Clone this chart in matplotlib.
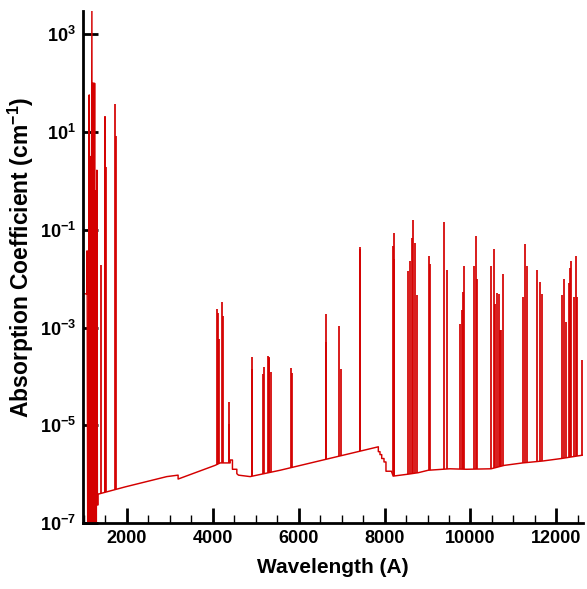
import numpy as np
import matplotlib
matplotlib.use("Agg")
import matplotlib.pyplot as plt
from matplotlib.ticker import FixedLocator, MultipleLocator, NullLocator

plt.rcParams['font.family'] = ['Liberation Sans', 'DejaVu Sans']
plt.rcParams['font.weight'] = 'bold'
plt.rcParams['mathtext.fontset'] = 'custom'
plt.rcParams['mathtext.rm'] = 'Liberation Sans:bold'
plt.rcParams['mathtext.bf'] = 'Liberation Sans:bold'
plt.rcParams['mathtext.it'] = 'Liberation Sans:bold'

# far-UV part of the spectrum, log10 of absorption coefficient (cm^-1)
uv_wl = [980, 1075, 1075, 1090, 1108, 1125, 1135, 1150, 1160, 1187, 1195,
         1210, 1218, 1225, 1240, 1250, 1262, 1280, 1290, 1303, 1315, 1329, 1329]
uv_log = [-2.31, -2.31, -1.43, -7.3, -7.3, 1.76, -7.3, 0.5, -7.3, 3.5, -7.3,
          2.0, -7.3, 2.0, -3.0, 2.0, -7.3, -0.2, -7.3, 0.22, -6.63, -6.63, -6.41]

# continuum (log10)
cont_wl = [1329, 1964, 2930, 3194, 3194, 4055, 4173, 4406, 4406, 4459, 4459, 4561, 4561,
           4599, 4871, 5569, 7855, 7855, 7894, 7894, 7934, 7934, 7987, 7987, 8033, 8033,
           8160, 8200, 8551, 8784, 9016, 9519, 9906, 10480, 10788, 11215, 11688, 12115, 12620]
cont_log = [-6.41, -6.26, -6.05, -6.02, -6.10, -5.82, -5.77, -5.77, -5.71, -5.71, -5.90, -5.90, -5.99,
            -6.02, -6.05, -5.92, -5.44, -5.54, -5.54, -5.60, -5.60, -5.68, -5.68, -5.75, -5.75, -5.94,
            -5.94, -6.04, -6.00, -5.97, -5.92, -5.89, -5.90, -5.89, -5.82, -5.77, -5.73, -5.68, -5.61]

# absorption lines: wavelength (A) and log10 peak
line_wl = [1396, 1481, 1496, 1513, 1736, 1752,
           4094, 4120, 4148, 4218, 4234, 4380, 4388,
           4906, 4915, 5162, 5193, 5278, 5300, 5316, 5355, 5813, 5844,
           6630, 6637, 6930, 6977, 7426, 7440,
           8187, 8218, 8230, 8551, 8590, 8628, 8667, 8706, 8745,
           9031, 9054, 9387, 9457, 9767, 9798, 9829, 9860,
           10085, 10132, 10155, 10487, 10550, 10580, 10620, 10660, 10690, 10720, 10757,
           11230, 11268, 11307, 11557, 11627, 11665,
           12131, 12177, 12230, 12285, 12310, 12349, 12400, 12465, 12490, 12596]
line_log = [-1.73, 1.31, 1.33, 0.28, 1.57, 0.92,
            -2.62, -2.70, -3.23, -2.48, -2.76, -4.97, -4.52,
            -3.60, -3.84, -3.95, -3.81, -3.58, -3.62, -3.60, -3.91, -3.83, -3.92,
            -3.29, -2.72, -2.97, -3.84, -1.35, -1.40,
            -1.33, -1.07, -1.60, -1.84, -1.63, -1.16, -0.79, -1.26, -2.33,
            -1.53, -1.70, -0.85, -1.82, -2.92, -2.65, -2.28, -1.75,
            -1.75, -1.13, -2.00, -1.75, -1.39, -2.52, -2.29, -2.31, -3.06, -3.06, -1.90,
            -2.38, -1.29, -1.75, -1.82, -2.07, -2.31,
            -2.34, -2.00, -2.89, -2.09, -1.79, -1.63, -2.38, -1.54, -2.38, -3.67]

ytick_vals = [1e-7, 1e-5, 1e-3, 1e-1, 1e1, 1e3]
ytick_labels = [r'$10^{-7}$', r'$10^{-5}$', r'$10^{-3}$', r'$10^{-1}$', r'$10^{1}$', r'$10^{3}$']

red = '#d40000'
fig = plt.figure(figsize=(5.87, 5.89), dpi=100)
ax = fig.add_axes([0.1414, 0.112, 0.8518, 0.8693])

lw = 1.05
ax.plot(uv_wl, 10.0 ** np.array(uv_log), color=red, lw=lw)
ax.plot(cont_wl, 10.0 ** np.array(cont_log), color=red, lw=lw)
base = np.interp(line_wl, cont_wl, cont_log)
ax.vlines(line_wl, 10.0 ** base, 10.0 ** np.array(line_log), color=red, lw=lw + 0.2)

ax.set_yscale('log')
ax.set_xlim(980, 12620)
ax.set_ylim(1e-7, 3e3)
ax.yaxis.set_major_locator(FixedLocator(ytick_vals))
ax.set_yticklabels(ytick_labels)
ax.yaxis.set_minor_locator(NullLocator())
ax.xaxis.set_major_locator(MultipleLocator(2000))
ax.xaxis.set_minor_locator(MultipleLocator(500))

for s in ['top', 'right']:
    ax.spines[s].set_visible(False)
for s in ['left', 'bottom']:
    ax.spines[s].set_linewidth(2)
ax.tick_params(which='major', direction='in', length=11, width=2, labelsize=13, pad=5)
ax.tick_params(which='minor', direction='in', length=6, width=1)
for lab in ax.get_xticklabels():
    lab.set_fontweight('bold')

ax.set_xlabel('Wavelength (A)', fontsize=15, fontweight='bold', labelpad=8)
ax.set_ylabel(r'Absorption Coefficient (cm$^{-1}$)', fontsize=16.5, fontweight='bold')
ax.yaxis.set_label_coords(-0.094, 0.518)

fig.savefig('out.png', dpi=100)
